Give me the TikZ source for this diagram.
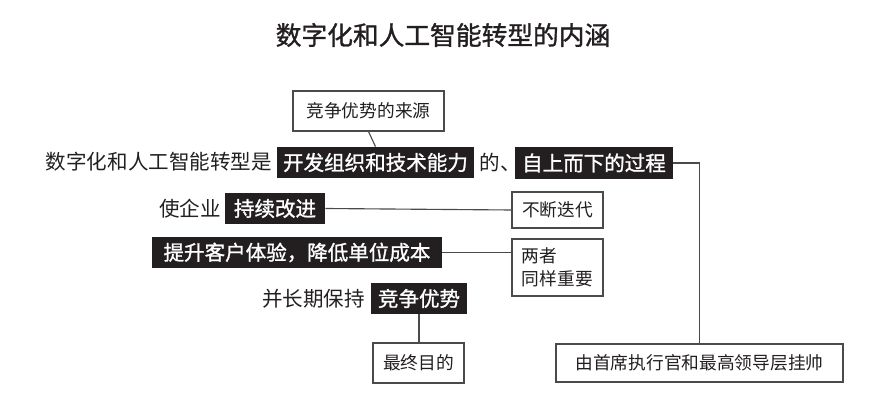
\documentclass[tikz,border=0pt]{standalone}
\usepackage{fontspec}
\setmainfont{Noto Sans CJK SC}
\newfontfamily\midfont{Noto Sans CJK SC}[FakeBold=1.2]
\usetikzlibrary{positioning}
\definecolor{hlblack}{HTML}{231F20}
\definecolor{linegray}{HTML}{4A4A4A}
\def\rowfont{\fontsize{14.6}{17}\selectfont}
\def\boxfont{\fontsize{12.6}{17}\selectfont}
\tikzset{
	hl/.style={fill=hlblack, text=white, font=\rowfont\midfont, inner sep=0pt, minimum height=0.78cm},
	plain/.style={font=\rowfont, text=hlblack, inner sep=0pt},
	lbox/.style={draw=linegray, line width=0.8pt, fill=white, font=\boxfont, text=hlblack, inner sep=0pt},
	link/.style={draw=linegray, line width=0.8pt}
}
\begin{document}
\begin{tikzpicture}[x=0.025cm, y=-0.025cm]
			\useasboundingbox (0,0) rectangle (896,412);
			\node[font=\fontsize{18.3}{22}\selectfont\midfont, text=hlblack] (title) at (443,35) {数字化和人工智能转型的内涵};
			% top row
			\node[lbox, minimum width=3.775cm, minimum height=1.0cm] (src) at (368.5,111) {竞争优势的来源};
			\node[plain, anchor=east] (lead) at (272,162) {数字化和人工智能转型是};
			\node[hl, minimum width=4.925cm] (ability) at (375.5,162.5) {开发组织和技术能力};
			\node[plain] (de) at (500,162) {的、};
			\node[hl, minimum width=3.95cm] (topdown) at (594,163) {自上而下的过程};
			% middle rows
			\node[plain, anchor=east] (qiye) at (221,209) {使企业};
			\node[hl, minimum width=2.5cm] (improve) at (275,208.5) {持续改进};
			\node[lbox, minimum width=2.275cm, minimum height=0.9cm] (iterate) at (557.5,210) {不断迭代};
			\node[hl, minimum width=7.25cm] (cost) at (297,252.5) {提升客户体验，降低单位成本};
			\node[lbox, minimum width=2.275cm, minimum height=1.425cm, align=left, text width=1.775cm, inner xsep=0.25cm] (both) at (557.5,267.5) {两者\\[-1pt]同样重要};
			\node[plain, anchor=east] (keep) at (365,299) {并长期保持};
			\node[hl, minimum width=2.4cm] (edge) at (419,298.5) {竞争优势};
			% bottom boxes
			\node[lbox, minimum width=2.275cm, minimum height=1.0cm] (goal) at (418.5,363) {最终目的};
			\node[lbox, minimum width=7.175cm, minimum height=0.95cm] (ceo) at (699.5,363) {由首席执行官和最高领导层挂帅};

			\begin{scope}[link]
			\draw (src.south) -- (ability.north);
			\draw (topdown.east) -| (ceo.north);
			\draw (improve.east) -- (iterate.west);
			\draw (cost.east) -- (cost.east -| both.west);
			\draw (edge.south) -- (edge.south |- goal.north);
			\end{scope}
\end{tikzpicture}
\end{document}
